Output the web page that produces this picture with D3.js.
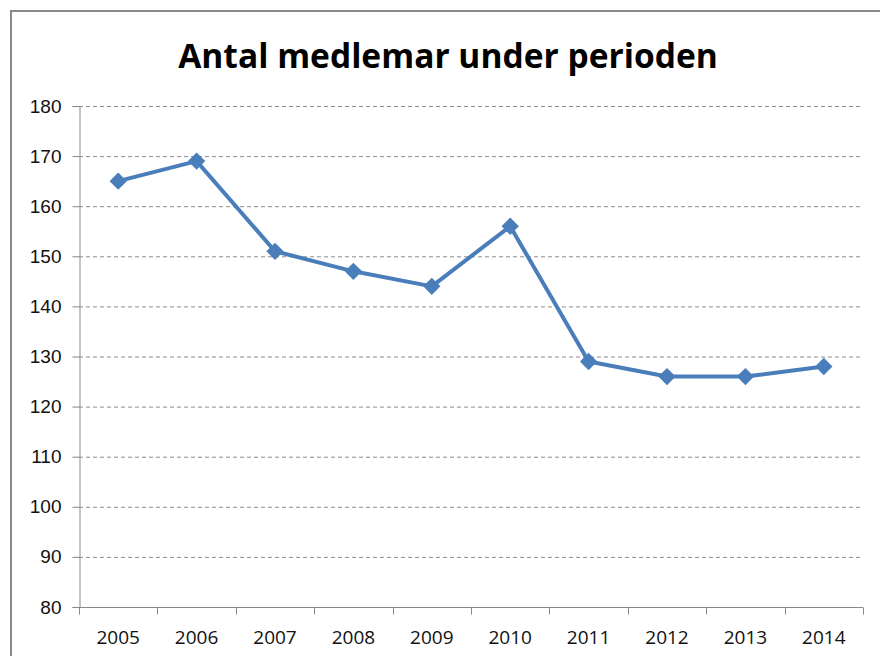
<!DOCTYPE html>
<html>
<head>
<meta charset="utf-8">
<script src="https://cdn.jsdelivr.net/npm/d3@7"></script>
<style>
  body { margin: 0; background: #fff; }
  svg { display: block; font-family: "Open Sans", "Noto Sans", sans-serif; }
</style>
</head>
<body>
<div id="chart"></div>
<script>
const years = ["2005", "2006", "2007", "2008", "2009", "2010", "2011", "2012", "2013", "2014"];
const members = [165, 169, 151, 147, 144, 156, 129, 126, 126, 128];
const yTicks = [80, 90, 100, 110, 120, 130, 140, 150, 160, 170, 180];
const title = "Antal medlemar under perioden";

const width = 880, height = 656;
const margin = {top: 106, right: 17, bottom: 49, left: 79};

const svg = d3.select("#chart").append("svg")
  .attr("width", width)
  .attr("height", height);

// outer chart border
svg.append("rect")
  .attr("x", 11).attr("y", 11)
  .attr("width", 880).attr("height", 660)
  .attr("fill", "none")
  .attr("stroke", "#898989")
  .attr("stroke-width", 2);

const x = d3.scaleBand()
  .domain(years)
  .range([margin.left, width - margin.right]);

const y = d3.scaleLinear()
  .domain([80, 180])
  .range([height - margin.bottom, margin.top]);

// gridlines
svg.append("g")
  .selectAll("line")
  .data(yTicks.filter(d => d > 80))
  .join("line")
  .attr("x1", margin.left)
  .attr("x2", width - margin.right)
  .attr("y1", d => y(d) + 0.5)
  .attr("y2", d => y(d) + 0.5)
  .attr("stroke", "#8c8c8c")
  .attr("stroke-dasharray", "4,3");

// y axis
const yAxis = svg.append("g")
  .attr("transform", `translate(${margin.left + 0.5},0)`)
  .call(d3.axisLeft(y).tickValues(yTicks).tickSize(7).tickPadding(11));
yAxis.select(".domain").attr("stroke", "#888");
yAxis.selectAll(".tick line").attr("stroke", "#888");
yAxis.selectAll("text").attr("font-size", 19).attr("fill", "#111");

// x axis with ticks between categories
const xAxis = svg.append("g")
  .attr("transform", `translate(0,${height - margin.bottom + 0.5})`);
xAxis.append("line")
  .attr("x1", margin.left).attr("x2", width - margin.right)
  .attr("stroke", "#888");
xAxis.selectAll(".sep")
  .data(years.concat(["end"]))
  .join("line")
  .attr("class", "sep")
  .attr("x1", (d, i) => Math.round(margin.left + i * x.step()) + 0.5)
  .attr("x2", (d, i) => Math.round(margin.left + i * x.step()) + 0.5)
  .attr("y1", 0).attr("y2", 7)
  .attr("stroke", "#888");
xAxis.selectAll("text")
  .data(years)
  .join("text")
  .attr("x", d => x(d) + x.bandwidth() / 2)
  .attr("y", 36)
  .attr("text-anchor", "middle")
  .attr("font-size", 19)
  .attr("fill", "#111")
  .text(d => d);

// line
const line = d3.line()
  .x((d, i) => x(years[i]) + x.bandwidth() / 2)
  .y(d => y(d));

svg.append("path")
  .datum(members)
  .attr("d", line)
  .attr("fill", "none")
  .attr("stroke", "#4a7ebb")
  .attr("stroke-width", 4)
  .attr("stroke-linejoin", "round");

svg.append("g")
  .selectAll("path")
  .data(members)
  .join("path")
  .attr("d", d3.symbol(d3.symbolSquare, 150)())
  .attr("transform", (d, i) => `translate(${x(years[i]) + x.bandwidth() / 2},${y(d)}) rotate(45)`)
  .attr("fill", "#4a7ebb");

// title
const t = svg.append("text")
  .attr("x", 448)
  .attr("y", 68)
  .attr("text-anchor", "middle")
  .attr("font-weight", "bold")
  .attr("font-size", 36)
  .attr("fill", "#000")
  .text(title);
const tw = t.node().getComputedTextLength();
t.attr("font-size", 36 * 540 / tw);
</script>
</body>
</html>
